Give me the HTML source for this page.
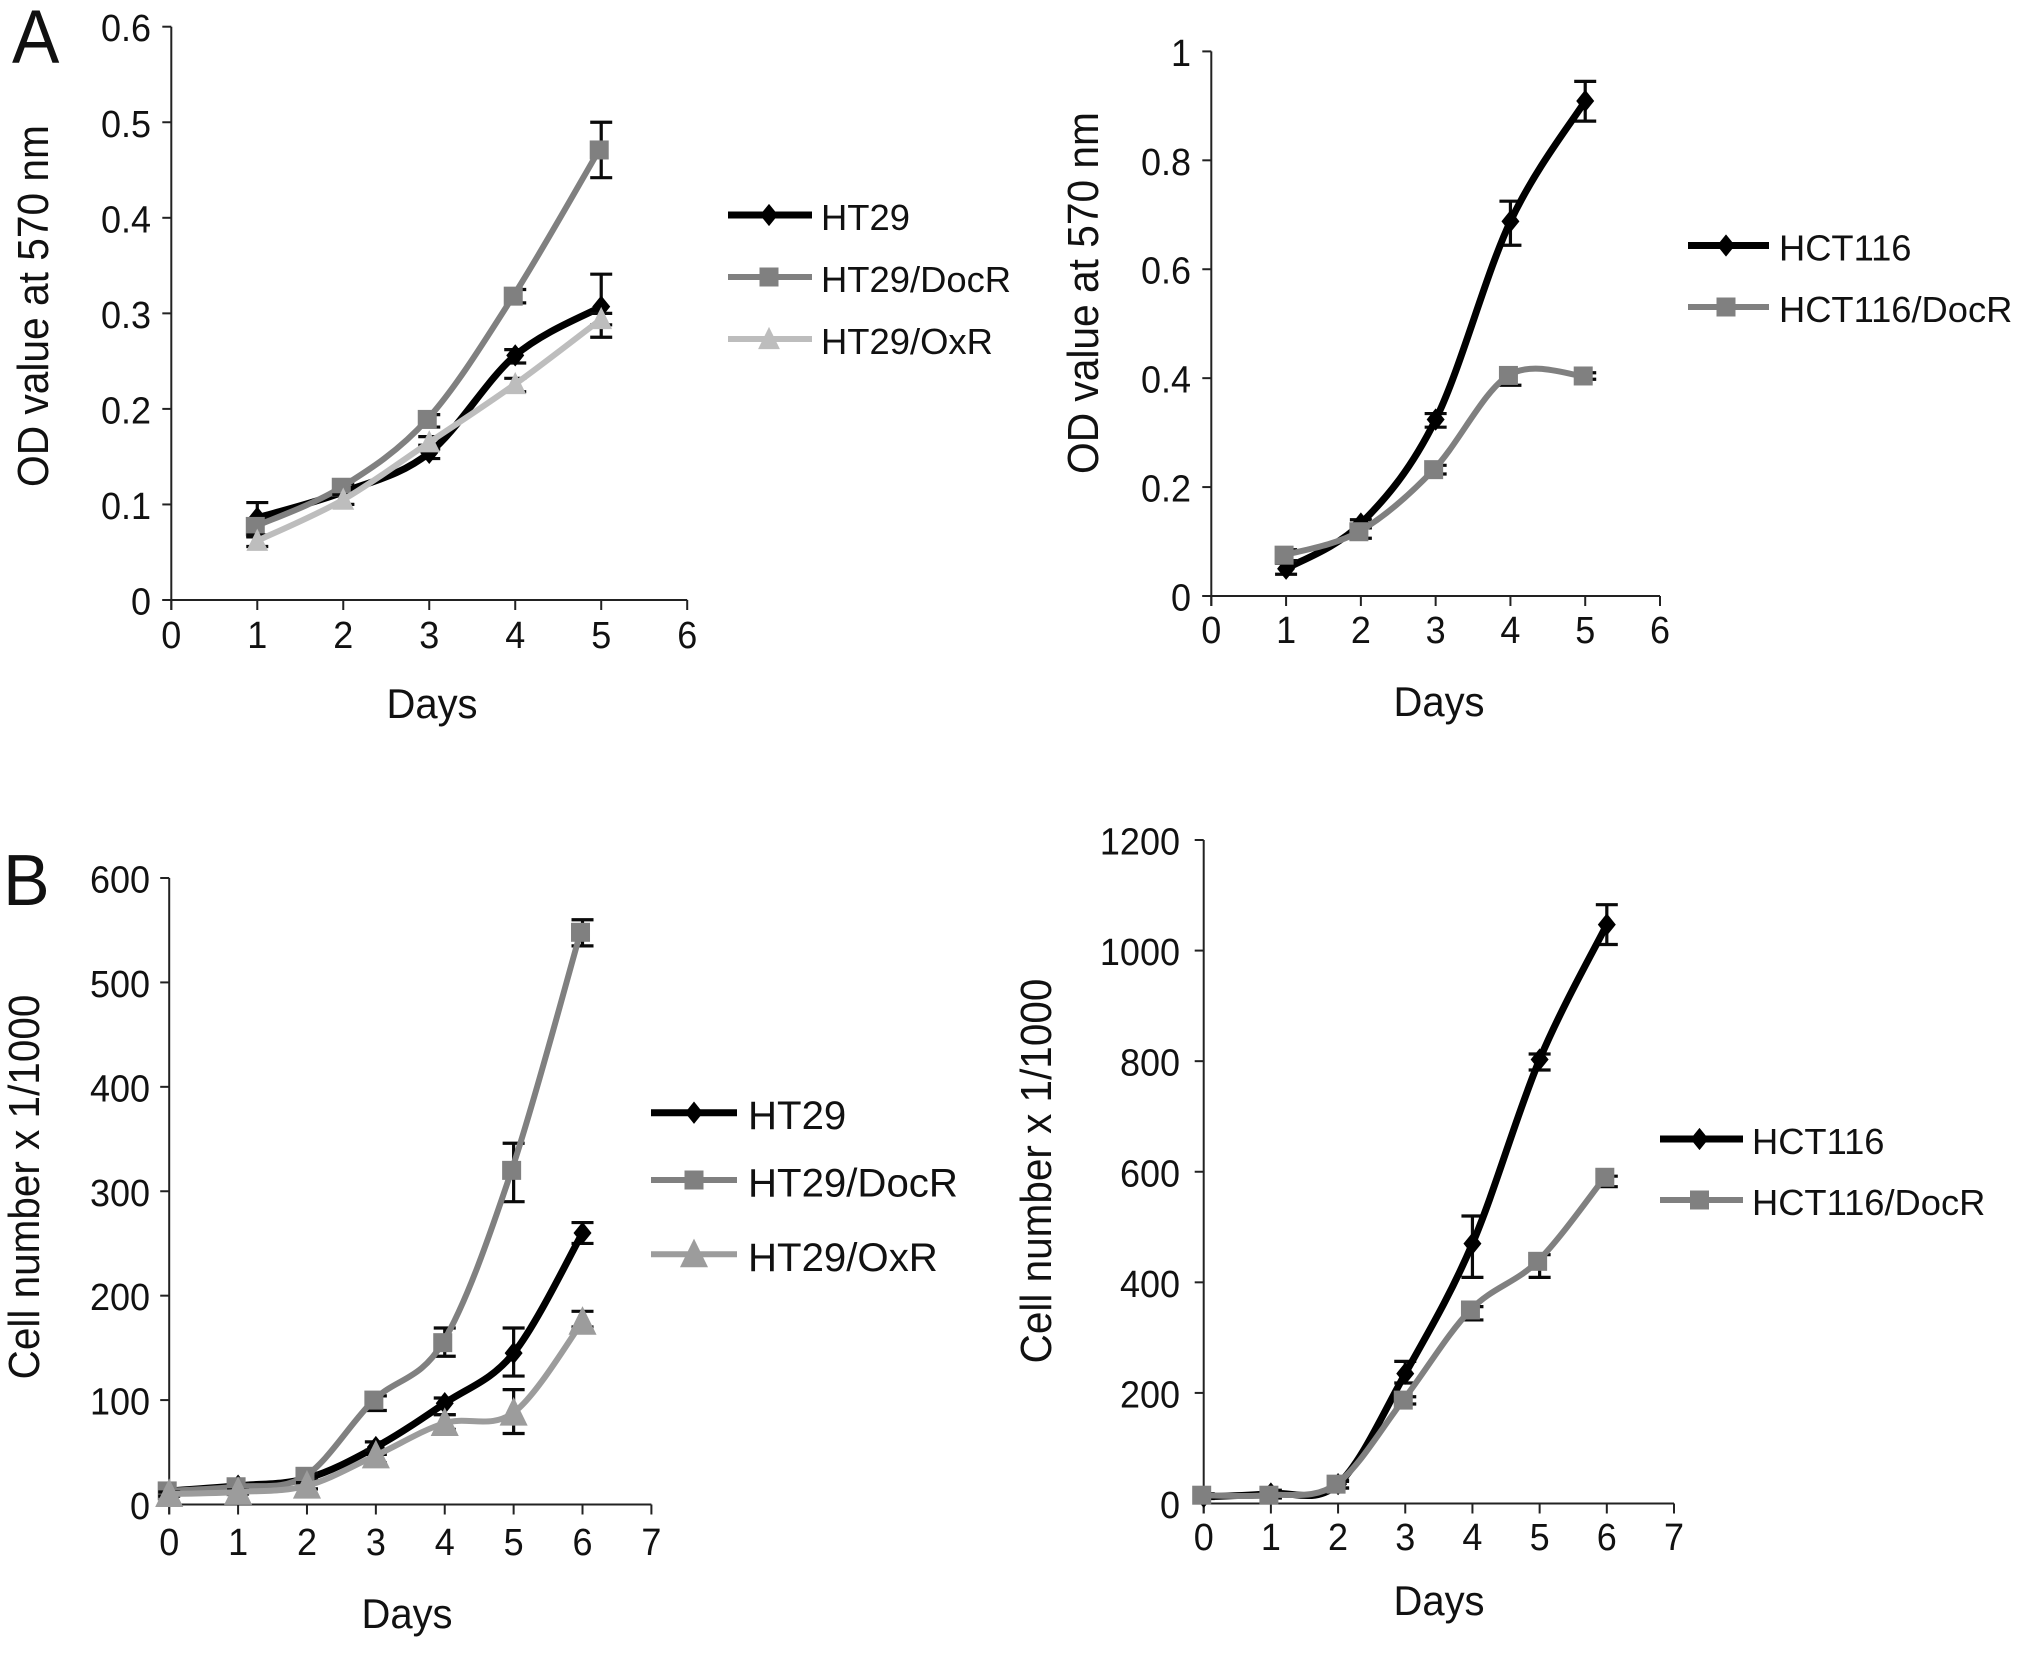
<!DOCTYPE html>
<html lang="en">
<head>
<meta charset="utf-8">
<title>Cell growth curves, panels A and B</title>
<style>
html,body{margin:0;padding:0;background:#fff;}
body{width:2026px;height:1654px;overflow:hidden;}
svg{display:block;}
text{font-family:"Liberation Sans",Arial,sans-serif;fill:#111;}
</style>
</head>
<body>
<svg id="fig" xmlns="http://www.w3.org/2000/svg" width="2026" height="1654" viewBox="0 0 2026 1654">
<rect width="2026" height="1654" fill="#fff"/>
<text transform="translate(12 63) scale(0.96 1.03)" font-size="74">A</text>
<text transform="translate(3 905) scale(1 1.03)" font-size="70">B</text>
</svg>
<script>
/* Panel A, left: HT29 OD values */
const a1Days = [1, 2, 3, 4, 5];
const a1XTickLabels = ['0', '1', '2', '3', '4', '5', '6'];
const a1YTickLabels = ['0', '0.1', '0.2', '0.3', '0.4', '0.5', '0.6'];
const a1Ht29 = [0.086, 0.113, 0.154, 0.256, 0.307];
const a1Ht29Hi = [0.102, 0.118, 0.162, 0.262, 0.341];
const a1Ht29Lo = [0.066, 0.100, 0.148, 0.248, 0.275];
const a1DocR = [0.077, 0.118, 0.189, 0.318, 0.471];
const a1DocRHi = [0.085, 0.122, 0.194, 0.325, 0.500];
const a1DocRLo = [0.067, 0.112, 0.181, 0.311, 0.442];
const a1OxR = [0.062, 0.105, 0.165, 0.226, 0.294];
const a1OxRHi = [0.068, 0.110, 0.171, 0.232, 0.300];
const a1OxRLo = [0.056, 0.100, 0.158, 0.218, 0.288];

/* Panel A, right: HCT116 OD values */
const a2Days = [1, 2, 3, 4, 5];
const a2XTickLabels = ['0', '1', '2', '3', '4', '5', '6'];
const a2YTickLabels = ['0', '0.2', '0.4', '0.6', '0.8', '1'];
const a2Hct = [0.050, 0.133, 0.324, 0.688, 0.909];
const a2HctHi = [0.060, 0.140, 0.335, 0.725, 0.945];
const a2HctLo = [0.040, 0.125, 0.310, 0.644, 0.872];
const a2DocR = [0.075, 0.118, 0.232, 0.405, 0.404];
const a2DocRHi = [0.085, 0.130, 0.240, 0.414, 0.410];
const a2DocRLo = [0.065, 0.106, 0.224, 0.387, 0.398];

/* Panel B, left: HT29 cell numbers */
const b1Days = [0, 1, 2, 3, 4, 5, 6];
const b1XTickLabels = ['0', '1', '2', '3', '4', '5', '6', '7'];
const b1YTickLabels = ['0', '100', '200', '300', '400', '500', '600'];
const b1Ht29 = [13, 18, 25, 55, 97, 145, 260];
const b1Ht29Hi = [15, 20, 28, 60, 102, 169, 270];
const b1Ht29Lo = [11, 15, 20, 48, 86, 123, 250];
const b1DocR = [13, 17, 27, 100, 155, 320, 548];
const b1DocRHi = [15, 20, 30, 104, 169, 346, 560];
const b1DocRLo = [11, 14, 24, 90, 142, 290, 535];
const b1OxR = [10, 12, 18, 47, 78, 88, 175];
const b1OxRHi = [12, 14, 21, 52, 86, 110, 185];
const b1OxRLo = [8, 10, 15, 40, 72, 68, 170];

/* Panel B, right: HCT116 cell numbers */
const b2Days = [0, 1, 2, 3, 4, 5, 6];
const b2XTickLabels = ['0', '1', '2', '3', '4', '5', '6', '7'];
const b2YTickLabels = ['0', '200', '400', '600', '800', '1000', '1200'];
const b2Hct = [12, 18, 35, 235, 470, 803, 1047];
const b2HctHi = [15, 24, 42, 257, 520, 813, 1083];
const b2HctLo = [9, 12, 28, 218, 409, 784, 1011];
const b2DocR = [15, 15, 35, 187, 350, 438, 590];
const b2DocRHi = [18, 20, 40, 193, 356, 450, 592];
const b2DocRLo = [12, 10, 28, 180, 332, 409, 573];

const svg = document.getElementById('fig');
const NS = 'http://www.w3.org/2000/svg';

function mk(tag, parent, attrs) {
  const el = document.createElementNS(NS, tag);
  for (const k in attrs) el.setAttribute(k, attrs[k]);
  parent.appendChild(el);
  return el;
}

function txt(parent, x, y, str, size, sx, sy, anchor, rot) {
  const el = mk('text', parent, {
    transform: 'translate(' + x + ' ' + y + ') rotate(' + rot + ') scale(' + sx + ' ' + sy + ')',
    'font-size': size,
    'text-anchor': anchor
  });
  el.textContent = str;
  return el;
}

function smoothPath(pts) {
  let d = 'M' + pts[0][0] + ' ' + pts[0][1];
  for (let i = 0; i < pts.length - 1; i++) {
    const p0 = pts[Math.max(i - 1, 0)];
    const p1 = pts[i];
    const p2 = pts[i + 1];
    const p3 = pts[Math.min(i + 2, pts.length - 1)];
    const c1x = p1[0] + (p2[0] - p0[0]) / 6;
    const c1y = p1[1] + (p2[1] - p0[1]) / 6;
    const c2x = p2[0] - (p3[0] - p1[0]) / 6;
    const c2y = p2[1] - (p3[1] - p1[1]) / 6;
    d += ' C' + c1x + ' ' + c1y + ' ' + c2x + ' ' + c2y + ' ' + p2[0] + ' ' + p2[1];
  }
  return d;
}

function marker(parent, kind, x, y, color, sz) {
  let el;
  if (kind === 'diamond') {
    el = mk('polygon', parent, {
      points: (x) + ',' + (y - sz * 0.62) + ' ' + (x + sz * 0.5) + ',' + y + ' ' + x + ',' + (y + sz * 0.62) + ' ' + (x - sz * 0.5) + ',' + y,
      fill: color
    });
  } else if (kind === 'square') {
    el = mk('rect', parent, { x: x - sz / 2, y: y - sz / 2, width: sz, height: sz, fill: color });
  } else {
    el = mk('polygon', parent, {
      points: x + ',' + (y - sz * 0.58) + ' ' + (x + sz * 0.52) + ',' + (y + sz * 0.48) + ' ' + (x - sz * 0.52) + ',' + (y + sz * 0.48),
      fill: color
    });
  }
  return el;
}

function drawChart(c) {
  const g = mk('g', svg, {});
  
  

  const xMax = parseFloat(c.xTicks[c.xTicks.length - 1]);
  const yMax = parseFloat(c.yTicks[c.yTicks.length - 1]);
  const sx = function (v) { return c.x0 + (c.x1 - c.x0) * v / xMax; };
  const sy = function (v) { return c.y0 + (c.y1 - c.y0) * v / yMax; };

  /* axes */
  const axisStyle = { stroke: '#222', 'stroke-width': 2 };
  const xAxis = mk('line', g, Object.assign({ x1: c.x0 - 9, x2: c.x1, y1: c.y0, y2: c.y0 }, axisStyle));
  
  
  const yAxis = mk('line', g, Object.assign({ x1: c.x0, x2: c.x0, y1: c.y1, y2: c.y0 + 10 }, axisStyle));
  
  

  c.xTicks.forEach(function (t) {
    const v = parseFloat(t);
    const tick = mk('line', g, Object.assign({ x1: sx(v), x2: sx(v), y1: c.y0, y2: c.y0 + 10 }, axisStyle));
    
    
    const lab = txt(g, sx(v), c.xLabelY, t, 36, 1, 1.05, 'middle', 0);
    
    
  });
  c.yTicks.forEach(function (t) {
    const v = parseFloat(t);
    const tick = mk('line', g, Object.assign({ x1: c.x0 - 9, x2: c.x0, y1: sy(v), y2: sy(v) }, axisStyle));
    
    
    const lab = txt(g, c.yLabelX, sy(v) + 14.5, t, 36, 1, 1.05, 'end', 0);
    
    
  });

  const xTitle = txt(g, c.xTitle[0], c.xTitle[1] + 1, 'Days', 40, 1, 1.05, 'middle', 0);
  
  
  const yTitle = txt(g, c.yTitle[0], c.yTitle[1], c.yTitle[2], 44, c.yTitle[3], 1, 'middle', -90);
  
  

  /* series */
  c.series.forEach(function (s) {
    const sg = mk('g', g, {});
    
    
    const dx = s.kind === 'square' ? -2 : 0;
    s.days.forEach(function (d, i) {
      const x = sx(d);
      const bar = mk('path', sg, {
        d: 'M' + x + ' ' + sy(s.lo[i]) + ' V' + sy(s.hi[i]) +
           ' M' + (x - 11) + ' ' + sy(s.hi[i]) + ' H' + (x + 11) +
           ' M' + (x - 11) + ' ' + sy(s.lo[i]) + ' H' + (x + 11),
        stroke: '#0a0a0a', 'stroke-width': 3.2, fill: 'none'
      });
      
      
    });
    const pts = s.days.map(function (d, i) { return [sx(d) + dx, sy(s.values[i])]; });
    const line = mk('path', sg, {
      d: smoothPath(pts), fill: 'none', stroke: s.color, 'stroke-width': s.width,
      'stroke-linejoin': 'round', 'stroke-linecap': 'butt'
    });
    
    
    pts.forEach(function (p) {
      const m = marker(sg, s.kind, p[0], p[1], s.color, s.size);
      
      
    });
  });

  /* legend */
  const lg = mk('g', g, {});
  
  
  c.series.forEach(function (s, i) {
    const ey = c.legend.ys[i];
    const entry = mk('g', lg, {});
    
    
    mk('line', entry, { x1: c.legend.x1, x2: c.legend.x2, y1: ey, y2: ey, stroke: s.color, 'stroke-width': s.width });
    marker(entry, s.kind, c.legend.mx, ey, s.color, s.size);
    txt(entry, c.legend.tx, ey + c.legend.dy, s.label, c.legend.size, 1, 1, 'start', 0);
  });
}

drawChart({
  name: 'chart-a-ht29-od',
  x0: 171.3, x1: 687.2, y0: 600, y1: 26.7,
  xTicks: a1XTickLabels, yTicks: a1YTickLabels,
  xLabelY: 648, yLabelX: 151,
  xTitle: [432, 717], yTitle: [48, 306, 'OD value at 570 nm', 0.925],
  legend: { x1: 728, x2: 812, mx: 769, tx: 821, ys: [215, 277, 339], dy: 15, size: 36.4 },
  series: [
    { label: 'HT29', days: a1Days, values: a1Ht29, hi: a1Ht29Hi, lo: a1Ht29Lo, color: '#000', width: 7, kind: 'diamond', size: 18 },
    { label: 'HT29/DocR', days: a1Days, values: a1DocR, hi: a1DocRHi, lo: a1DocRLo, color: '#808080', width: 6, kind: 'square', size: 19 },
    { label: 'HT29/OxR', days: a1Days, values: a1OxR, hi: a1OxRHi, lo: a1OxRLo, color: '#bdbdbd', width: 6, kind: 'triangle', size: 21 }
  ]
});

drawChart({
  name: 'chart-a-hct116-od',
  x0: 1211.3, x1: 1660, y0: 596, y1: 51.4,
  xTicks: a2XTickLabels, yTicks: a2YTickLabels,
  xLabelY: 643, yLabelX: 1191,
  xTitle: [1439, 715], yTitle: [1098, 293, 'OD value at 570 nm', 0.925],
  legend: { x1: 1688, x2: 1769, mx: 1726, tx: 1779, ys: [245.5, 307], dy: 15, size: 36.3 },
  series: [
    { label: 'HCT116', days: a2Days, values: a2Hct, hi: a2HctHi, lo: a2HctLo, color: '#000', width: 7, kind: 'diamond', size: 18 },
    { label: 'HCT116/DocR', days: a2Days, values: a2DocR, hi: a2DocRHi, lo: a2DocRLo, color: '#808080', width: 6, kind: 'square', size: 19 }
  ]
});

drawChart({
  name: 'chart-b-ht29-cells',
  x0: 169.2, x1: 651.4, y0: 1504.5, y1: 878,
  xTicks: b1XTickLabels, yTicks: b1YTickLabels,
  xLabelY: 1555, yLabelX: 150,
  xTitle: [407, 1627], yTitle: [39, 1187, 'Cell number x 1/1000', 0.92],
  legend: { x1: 651, x2: 737, mx: 694, tx: 748, ys: [1112.7, 1180, 1254.3], dy: 16.5, size: 40.2 },
  series: [
    { label: 'HT29', days: b1Days, values: b1Ht29, hi: b1Ht29Hi, lo: b1Ht29Lo, color: '#000', width: 7, kind: 'diamond', size: 18 },
    { label: 'HT29/DocR', days: b1Days, values: b1DocR, hi: b1DocRHi, lo: b1DocRLo, color: '#808080', width: 6, kind: 'square', size: 19 },
    { label: 'HT29/OxR', days: b1Days, values: b1OxR, hi: b1OxRHi, lo: b1OxRLo, color: '#9c9c9c', width: 6, kind: 'triangle', size: 27 }
  ]
});

drawChart({
  name: 'chart-b-hct116-cells',
  x0: 1203.7, x1: 1674, y0: 1503.5, y1: 840,
  xTicks: b2XTickLabels, yTicks: b2YTickLabels,
  xLabelY: 1550, yLabelX: 1180,
  xTitle: [1439, 1614], yTitle: [1051, 1171, 'Cell number x 1/1000', 0.92],
  legend: { x1: 1660, x2: 1743, mx: 1699.5, tx: 1752, ys: [1139, 1200], dy: 15, size: 36.3 },
  series: [
    { label: 'HCT116', days: b2Days, values: b2Hct, hi: b2HctHi, lo: b2HctLo, color: '#000', width: 7, kind: 'diamond', size: 18 },
    { label: 'HCT116/DocR', days: b2Days, values: b2DocR, hi: b2DocRHi, lo: b2DocRLo, color: '#808080', width: 6, kind: 'square', size: 19 }
  ]
});
</script>
</body>
</html>
